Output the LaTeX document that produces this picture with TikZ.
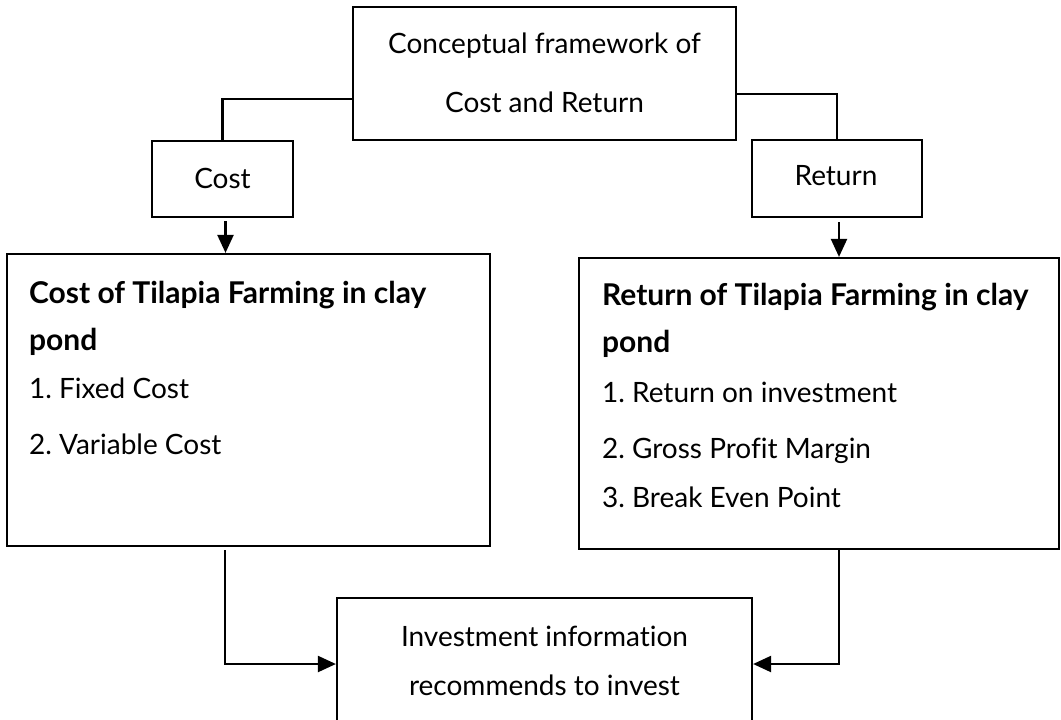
\documentclass[tikz,border=0pt]{standalone}
\usepackage{fontspec}
\setmainfont{Lato}[Ligatures=NoCommon]
\usetikzlibrary{arrows.meta}
\frenchspacing

\tikzset{
  frame/.style={draw, line width=1.1pt, inner sep=0pt},
  txt/.style={inner sep=0pt, font=\fontsize{14}{17}\selectfont},
  head/.style={inner sep=0pt, font=\fontsize{15}{18}\selectfont\bfseries},
}

\begin{document}
\begin{tikzpicture}[x=0.5pt, y=-0.5pt, >={Triangle[length=9pt, width=8pt]}, line width=1.1pt]

\clip (0,0) rectangle (1061,719);

% boxes
\node (top) at (544.5,73.5) [frame, minimum width=191.5pt, minimum height=66.5pt]{};
\node (cost) at (222.5,179) [frame, minimum width=70.5pt, minimum height=38pt]{};
\node (ret) at (837,178.5) [frame, minimum width=85pt, minimum height=38.5pt]{};
\node (costbox) at (248.5,400) [frame, minimum width=241.5pt, minimum height=146pt]{};
\node (retbox) at (819,403.5) [frame, minimum width=240pt, minimum height=145.5pt]{};
\node (invest) at (544.5,664) [frame, minimum width=207.5pt, minimum height=66pt]{};

% texts
\node (t1) at (544.5,53) [txt, anchor=base]{Conceptual framework of};
\node (t2) at (544.5,112) [txt, anchor=base]{Cost and Return};
\node (c1) at (222.5,188) [txt, anchor=base]{Cost};
\node (r1) at (836,185) [txt, anchor=base]{Return};

\node (ch1) at (28,303) [head, anchor=base west]{Cost of Tilapia Farming in clay};
\node (ch2) at (28,350) [head, anchor=base west]{pond};
\node (ci1) at (28,398) [txt, anchor=base west]{1. Fixed Cost};
\node (ci2) at (28,454) [txt, anchor=base west]{2. Variable Cost};

\node (rh1) at (601,305) [head, anchor=base west]{Return of Tilapia Farming in clay};
\node (rh2) at (601,352) [head, anchor=base west]{pond};
\node (ri1) at (601,402) [txt, anchor=base west]{1. Return on investment};
\node (ri2) at (601,458) [txt, anchor=base west]{2. Gross Profit Margin};
\node (ri3) at (601,507) [txt, anchor=base west]{3. Break Even Point};

\node (i1) at (544.5,646) [txt, anchor=base]{Investment information};
\node (i2) at (544.5,695) [txt, anchor=base]{recommends to invest};

% connectors
\coordinate (tl) at (353,99);
\coordinate (tr) at (736,94);
\coordinate (cl) at (225,550);
\coordinate (rl) at (839,550);
\draw (tl) -| (cost.north);
\draw (tr) -| (ret.north);
\draw[->] ([xshift=1.5pt, yshift=-1.5pt]cost.south) -- ([xshift=1.5pt]cost.south |- costbox.north);
\draw[->] ([xshift=1pt, yshift=-2pt]ret.south) -- ([xshift=1pt]ret.south |- retbox.north);
\draw[->] (cl) |- (invest.west);
\draw[->] (rl) |- (invest.east);

\end{tikzpicture}
\end{document}
